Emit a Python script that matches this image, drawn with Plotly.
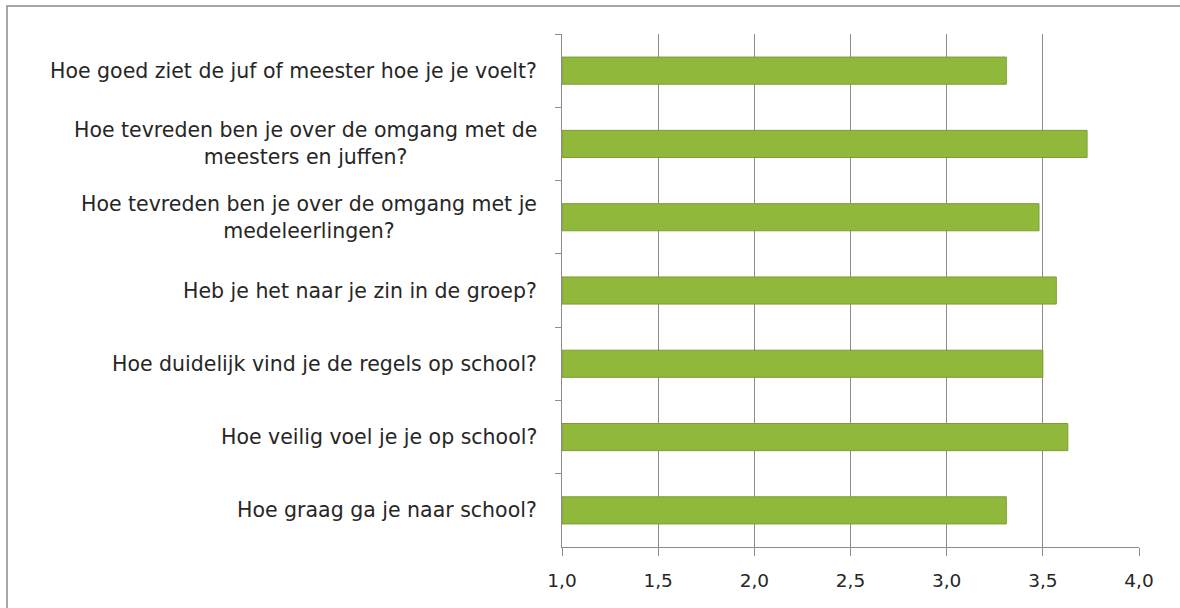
import plotly.graph_objects as go

questions = [
    "Hoe goed ziet de juf of meester hoe je je voelt?",
    "Hoe tevreden ben je over de omgang met de<br>meesters en juffen?",
    "Hoe tevreden ben je over de omgang met je<br>medeleerlingen?",
    "Heb je het naar je zin in de groep?",
    "Hoe duidelijk vind je de regels op school?",
    "Hoe veilig voel je je op school?",
    "Hoe graag ga je naar school?",
]
scores = [3.31, 3.73, 3.48, 3.57, 3.50, 3.63, 3.31]
x_ticks = [1.0, 1.5, 2.0, 2.5, 3.0, 3.5, 4.0]

fig = go.Figure()
fig.add_trace(go.Bar(
    y=questions, x=[s - 1.0 for s in scores], base=1.0, orientation="h",
    marker=dict(color="#90b93c", line=dict(color="#7c9c34", width=1)),
    width=0.37, hoverinfo="skip",
))

for q in questions:
    fig.add_annotation(
        x=0, xref="paper", y=q, yref="y", text=q, showarrow=False,
        xanchor="right", yanchor="middle", align="center", xshift=-23,
        font=dict(family="DejaVu Sans", size=20.5, color="#262626"),
    )

fig.add_shape(type="path", xref="paper", yref="paper",
              path="M {x0},-0.5 L {x0},{y1} L 1.6,{y1}".format(
                  x0=(7 - 562) / 577, y1=(547 - 6) / 513),
              line=dict(color="#8a8a8a", width=1.5), layer="below")

fig.update_layout(
    width=1180, height=608,
    margin=dict(l=562, r=41, t=34, b=61),
    paper_bgcolor="white", plot_bgcolor="white",
    separators=",.",
    showlegend=False,
    xaxis=dict(
        range=[1.0, 4.0], tickvals=x_ticks, tickformat=".1f",
        showgrid=True, gridcolor="#8c8c8c", gridwidth=1,
        showline=True, linecolor="#8c8c8c", linewidth=1,
        ticks="outside", ticklen=8, tickcolor="#8c8c8c",
        ticklabelstandoff=9,
        tickfont=dict(family="DejaVu Sans", size=18.5, color="#262626"),
        zeroline=False, fixedrange=True,
    ),
    yaxis=dict(
        categoryorder="array", categoryarray=questions, autorange="reversed",
        showticklabels=False, showgrid=False,
        showline=True, linecolor="#8c8c8c", linewidth=1,
        ticks="outside", ticklen=6, tickcolor="#8c8c8c", tickson="boundaries",
        fixedrange=True,
    ),
)

fig.write_html(
    "out.html", config={"displayModeBar": False},
    post_script=("document.body.style.margin='0';"
                 "document.body.style.overflow='hidden';"
                 "document.documentElement.style.overflow='hidden';"),
)
